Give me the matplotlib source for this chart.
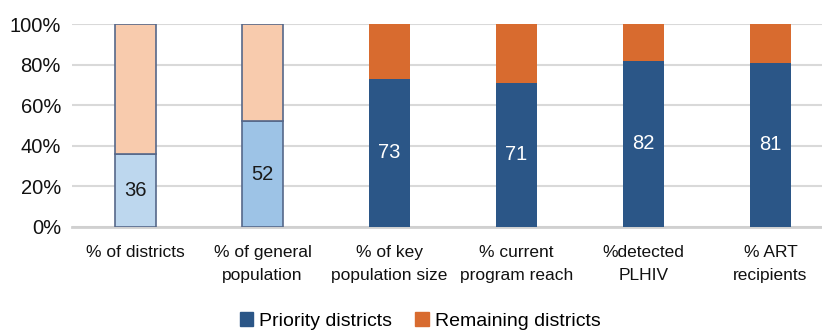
import matplotlib
matplotlib.use("Agg")
import matplotlib.pyplot as plt
from matplotlib.patches import Patch

categories = ["% of districts", "% of general\npopulation", "% of key\npopulation size",
              "% current\nprogram reach", "%detected\nPLHIV", "% ART\nrecipients"]
priority = [36, 52, 73, 71, 82, 81]
remaining = [64, 48, 27, 29, 18, 19]

prio_colors = ["#BDD7EE", "#9DC3E6", "#2B5687", "#2B5687", "#2B5687", "#2B5687"]
rem_colors = ["#F8CBAD", "#F8CBAD", "#D86B2F", "#D86B2F", "#D86B2F", "#D86B2F"]
edge_colors = ["#56688A", "#56688A", "none", "none", "none", "none"]
label_colors = ["#1a1a1a", "#1a1a1a", "white", "white", "white", "white"]

plt.rcParams['font.family'] = ['Liberation Sans', 'DejaVu Sans']

fig = plt.figure(figsize=(8.22, 3.33), dpi=100)
ax = fig.add_axes([72/822, (333-227)/333, 762/822, 203/333])

x = list(range(len(categories)))
w = 0.315
for i in x:
    lw = 1.2 if edge_colors[i] != "none" else 0
    ax.bar(i, priority[i], width=w, color=prio_colors[i], edgecolor=edge_colors[i], linewidth=lw, zorder=3)
    ax.bar(i, remaining[i], bottom=priority[i], width=w, color=rem_colors[i], edgecolor=edge_colors[i], linewidth=lw, zorder=3)
    ax.text(i, priority[i]/2, str(priority[i]), ha="center", va="center", fontsize=14.5,
            color=label_colors[i], zorder=4)

ax.set_xlim(-0.5, 5.5)
ax.set_ylim(0, 100)
ax.set_yticks([0, 20, 40, 60, 80, 100])
ax.set_yticklabels([f"{v}%" for v in [0, 20, 40, 60, 80, 100]], fontsize=14.5, color="#111111")
ax.set_xticks(x)
ax.set_xticklabels(categories, fontsize=12.5, color="#111111", linespacing=1.7)
ax.tick_params(axis="both", length=0)
ax.tick_params(axis="y", pad=8)
ax.tick_params(axis="x", pad=13)
ax.grid(axis="y", color="#D9D9D9", linewidth=1.5, zorder=0)
for s in ["top", "right", "left"]:
    ax.spines[s].set_visible(False)
ax.spines["bottom"].set_color("#D0D0D0")
ax.spines["bottom"].set_linewidth(2)

handles = [Patch(color="#2B5687", label="Priority districts"),
           Patch(color="#D86B2F", label="Remaining districts")]
fig.legend(handles=handles, loc="center", bbox_to_anchor=(420/822, 1-321/333), ncol=2,
           frameon=False, fontsize=14, handlelength=0.7, handleheight=0.7,
           handletextpad=0.3, columnspacing=1.2, borderpad=0)

fig.savefig("out.png", dpi=100)
